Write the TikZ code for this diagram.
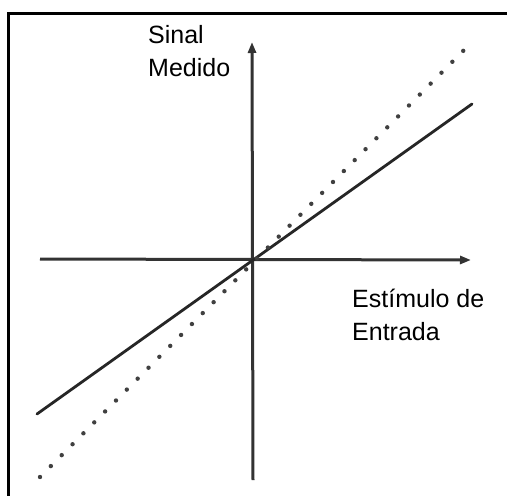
\documentclass[tikz,border=0pt]{standalone}
\usepackage{fontspec}
\setmainfont{Liberation Sans}
\usetikzlibrary{arrows.meta}

\tikzset{
  axis/.style = {line width=3pt, draw=black!80, -{Triangle[length=11pt,width=8pt]}},
  label/.style = {anchor=north west, inner sep=0pt, align=left,
                  font=\fontsize{25}{33}\selectfont}
}

\begin{document}
\begin{tikzpicture}[x=1pt, y=-1pt]
      \useasboundingbox (0,0) rectangle (507,496);
      \fill[white] (0,0) rectangle (507,496);

      % frame (only top and left edge inside the crop)
      \draw[line width=3pt] (8,496)--(8,13)--(507,13);

      % axes
      \coordinate (xl) at (40,259);
      \coordinate (xr) at (471,260);
      \coordinate (yb) at (253,480);
      \coordinate (yt) at (252,42);
      \draw[axis] (xl)--(xr);
      \draw[axis] (yb)--(yt);

      % measured line
      \coordinate (sa) at (37,414);
      \coordinate (sb) at (472,104);
      \draw[line width=2.8pt, black!85, line cap=round] (sa)--(sb);

      % ideal line
      \coordinate (da) at (40,477);
      \coordinate (db) at (471,43);
      \draw[line width=4.4pt, black!75, line cap=round,
            dash pattern=on 0pt off 15.4pt] (da)--(db);

      \node[label] (sinal) at (148,25) {Sinal\\Medido};
      \node[label] (estimulo) at (352,289) {Estímulo de\\Entrada};
\end{tikzpicture}
\end{document}
